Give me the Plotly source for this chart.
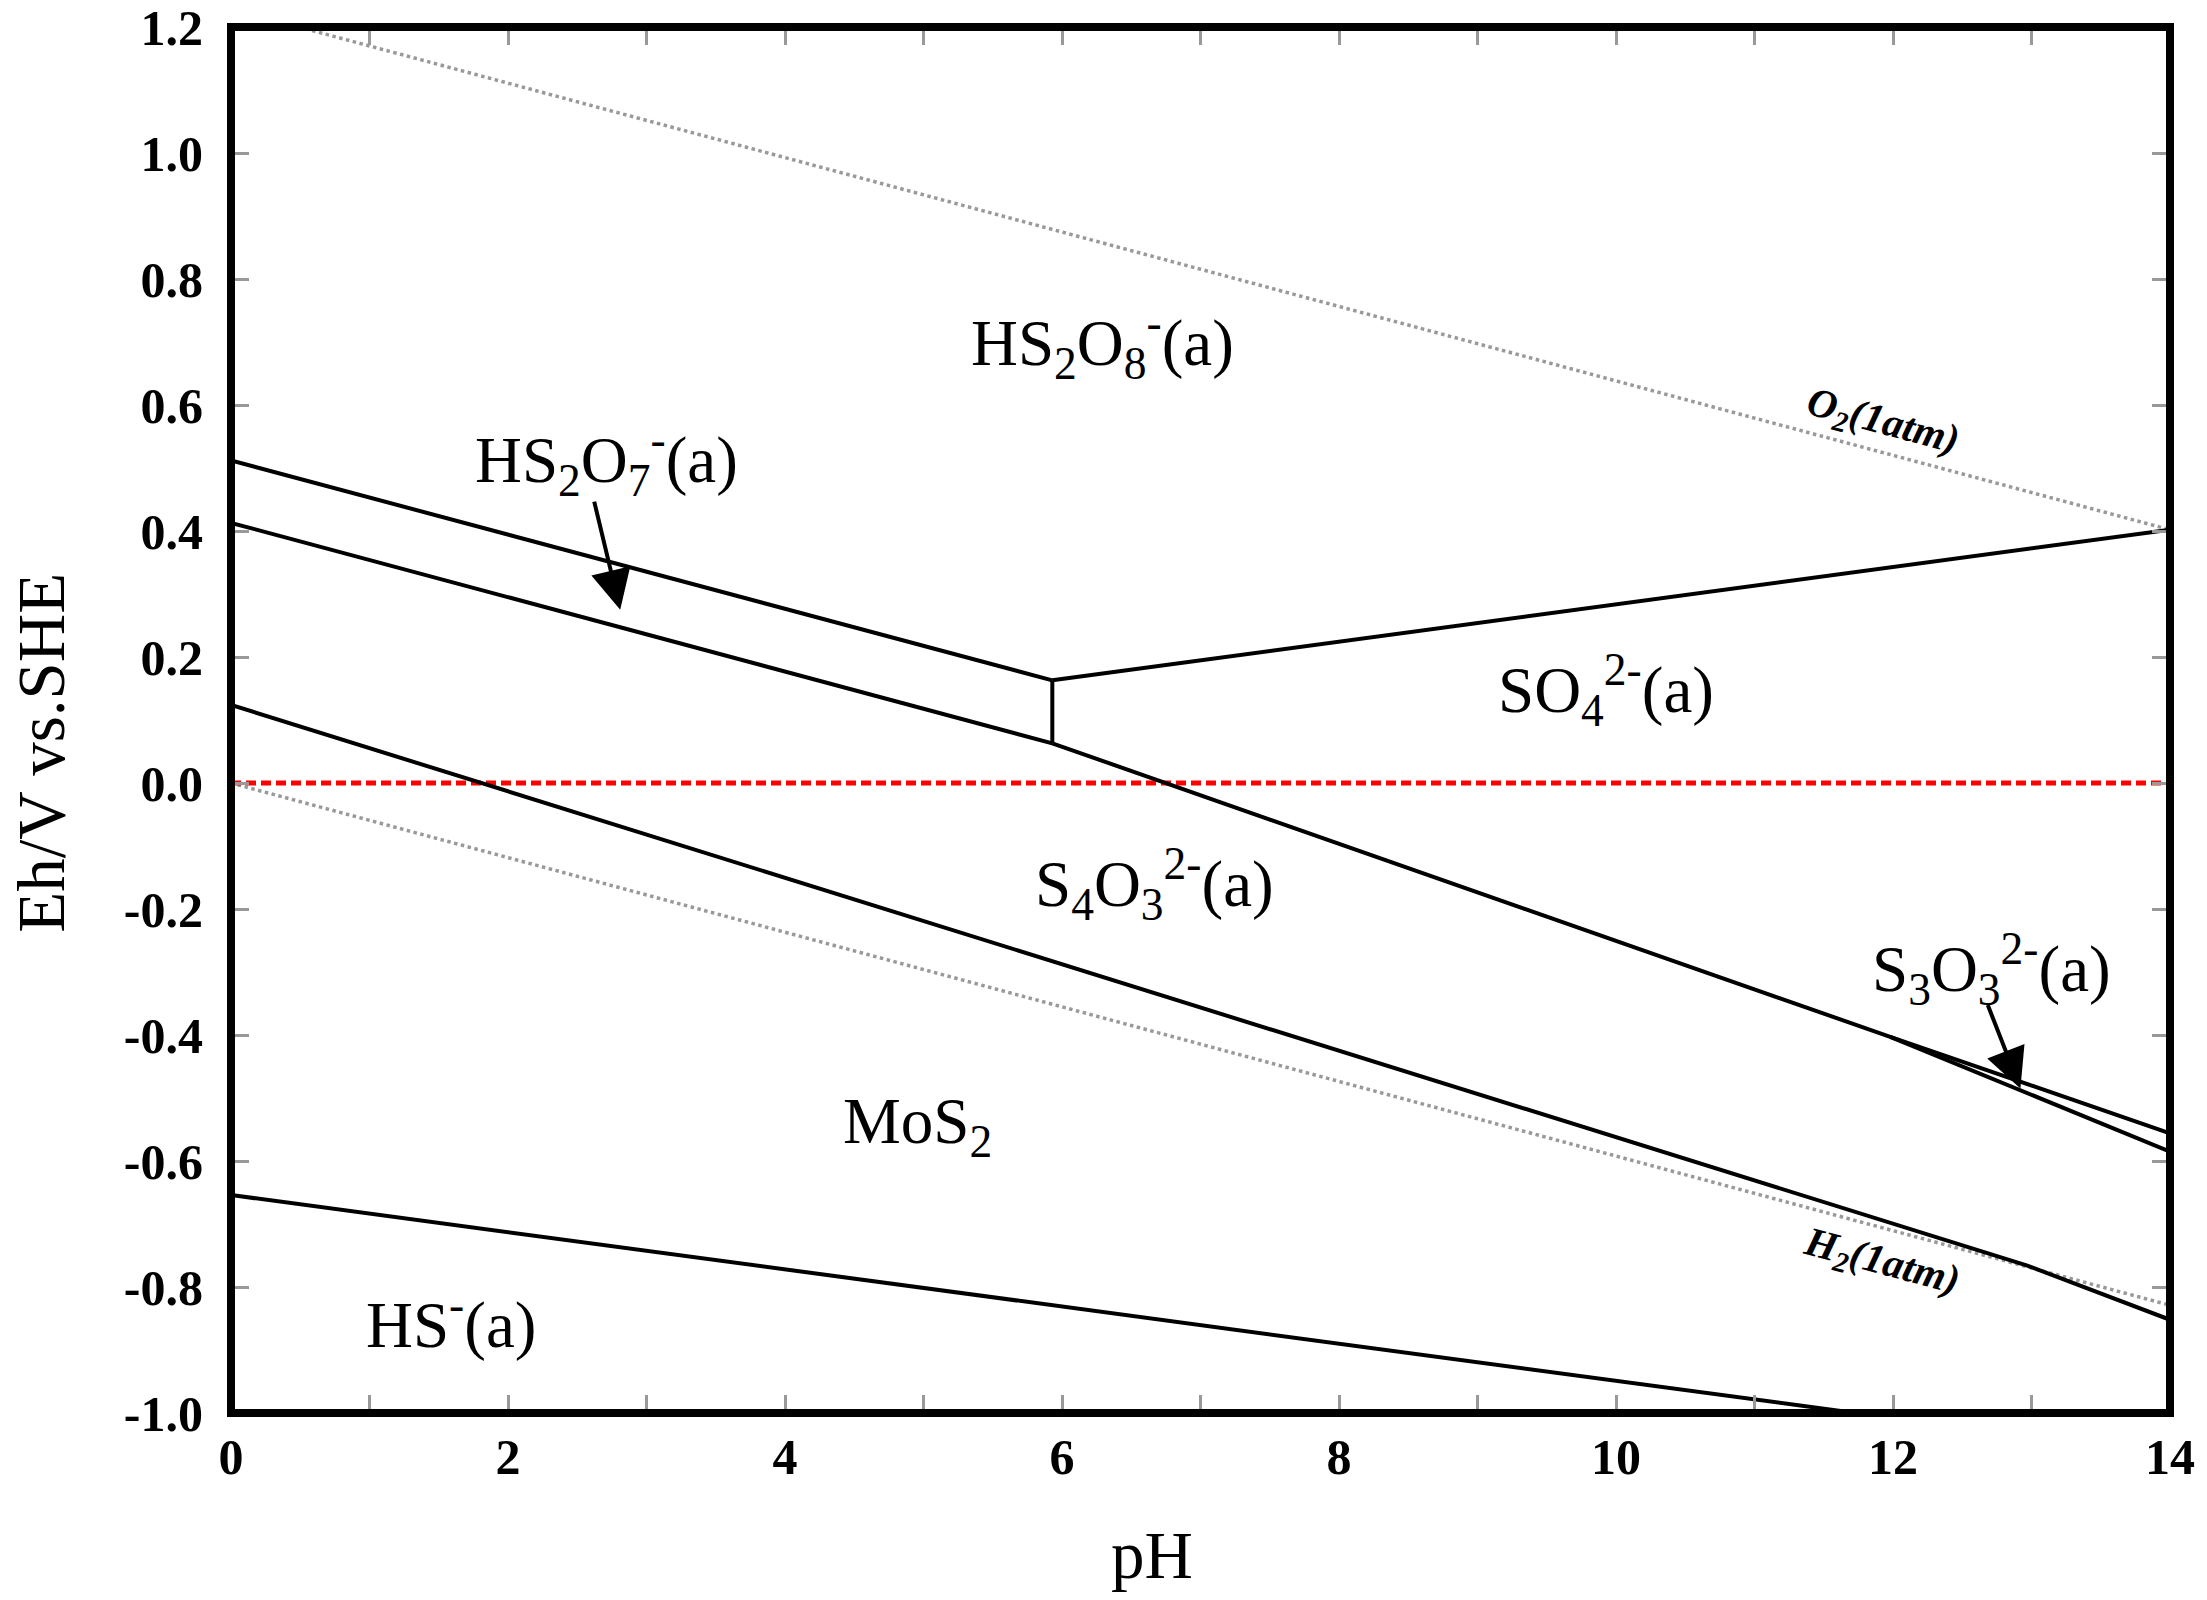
import plotly.graph_objects as go

# ---- data (pH, Eh/V) ----
ph_hs2o8_hs2o7 = [0.0, 5.93]
eh_hs2o8_hs2o7 = [0.512, 0.163]

ph_hs2o7_s4o3 = [0.0, 5.93]
eh_hs2o7_s4o3 = [0.413, 0.063]

ph_vertical = [5.93, 5.93]
eh_vertical = [0.063, 0.163]

ph_hs2o8_so4 = [5.93, 14.0]
eh_hs2o8_so4 = [0.163, 0.402]

ph_so4_lower = [5.93, 11.98, 14.0]
eh_so4_lower = [0.063, -0.403, -0.556]

ph_s3o3_s4o3 = [11.98, 14.0]
eh_s3o3_s4o3 = [-0.403, -0.585]

ph_s4o3_mos2 = [0.0, 12.97, 14.0]
eh_s4o3_mos2 = [0.124, -0.766, -0.852]

ph_mos2_hs = [0.0, 11.73]
eh_mos2_hs = [-0.654, -1.0]

ph_o2 = [0.0, 14.0]
eh_o2 = [1.229, 0.402]

ph_h2 = [0.0, 14.0]
eh_h2 = [0.0, -0.829]

ph_zero = [0.0, 14.0]
eh_zero = [0.0, 0.0]

region_labels = ["HS<sub>2</sub>O<sub>8</sub><sup>-</sup>(a)",
                 "HS<sub>2</sub>O<sub>7</sub><sup>-</sup>(a)",
                 "SO<sub>4</sub><sup>2-</sup>(a)",
                 "S<sub>4</sub>O<sub>3</sub><sup>2-</sup>(a)",
                 "S<sub>3</sub>O<sub>3</sub><sup>2-</sup>(a)",
                 "MoS<sub>2</sub>",
                 "HS<sup>-</sup>(a)"]
label_ph = [6.29, 2.71, 9.93, 6.67, 12.71, 4.96, 1.59]
label_eh = [0.698, 0.513, 0.148, -0.160, -0.296, -0.545, -0.852]

gas_labels = ["O<sub>2</sub>(1atm)", "H<sub>2</sub>(1atm)"]
gas_ph = [11.93, 11.92]
gas_eh = [0.572, -0.762]

arrow_tail_ph = [2.62, 12.68]
arrow_tail_eh = [0.449, -0.350]
arrow_head_ph = [2.81, 12.92]
arrow_head_eh = [0.275, -0.485]

x_ticks = [0, 2, 4, 6, 8, 10, 12, 14]
y_ticks = [-1.0, -0.8, -0.6, -0.4, -0.2, 0.0, 0.2, 0.4, 0.6, 0.8, 1.0, 1.2]

x_title = "pH"
y_title = "Eh/V vs.SHE"
x_title_ph = 6.65
y_title_eh = 0.048

SERIF = "Liberation Serif"
GRAY = "#999999"

fig = go.Figure()

# gas lines (dotted gray)
for px, py in [(ph_o2, eh_o2), (ph_h2, eh_h2)]:
    fig.add_trace(go.Scatter(x=px, y=py, mode="lines",
                             line=dict(color=GRAY, width=3.5, dash="3.5px,3.5px"),
                             hoverinfo="skip", showlegend=False))

# zero line (red dashed)
fig.add_trace(go.Scatter(x=ph_zero, y=eh_zero, mode="lines",
                         line=dict(color="#ff0000", width=5, dash="10px,5px"),
                         hoverinfo="skip", showlegend=False))

# boundary lines
boundaries = [
    (ph_hs2o8_hs2o7, eh_hs2o8_hs2o7),
    (ph_hs2o7_s4o3, eh_hs2o7_s4o3),
    (ph_vertical, eh_vertical),
    (ph_hs2o8_so4, eh_hs2o8_so4),
    (ph_so4_lower, eh_so4_lower),
    (ph_s3o3_s4o3, eh_s3o3_s4o3),
    (ph_s4o3_mos2, eh_s4o3_mos2),
    (ph_mos2_hs, eh_mos2_hs),
]
for px, py in boundaries:
    fig.add_trace(go.Scatter(x=px, y=py, mode="lines",
                             line=dict(color="black", width=4),
                             hoverinfo="skip", showlegend=False))

# region labels
for t, xx, yy in zip(region_labels, label_ph, label_eh):
    fig.add_annotation(x=xx, y=yy, text=t, showarrow=False,
                       font=dict(family=SERIF, size=65, color="black"))

# gas labels (rotated)
for t, xx, yy in zip(gas_labels, gas_ph, gas_eh):
    fig.add_annotation(x=xx, y=yy, text=t, showarrow=False, textangle=15,
                       font=dict(family=SERIF, size=41, color="black",
                                 weight="bold", style="italic"))

# arrows
for tx, ty, hx, hy in zip(arrow_tail_ph, arrow_tail_eh, arrow_head_ph, arrow_head_eh):
    fig.add_annotation(x=hx, y=hy, ax=tx, ay=ty, xref="x", yref="y",
                       axref="x", ayref="y", text="", showarrow=True,
                       arrowhead=2, arrowsize=2.0, arrowwidth=4,
                       arrowcolor="black")

# axis titles
fig.add_annotation(x=x_title_ph, xref="x", y=0, yref="paper", yshift=-142,
                   yanchor="middle", text=x_title, showarrow=False,
                   font=dict(family=SERIF, size=67, color="black"))
fig.add_annotation(x=0, xref="paper", xshift=-190, y=y_title_eh, yref="y",
                   xanchor="center", text=y_title, showarrow=False, textangle=-90,
                   font=dict(family=SERIF, size=67, color="black"))

# frame
fig.add_shape(type="rect", xref="paper", yref="paper", x0=0, x1=1, y0=0, y1=1,
              line=dict(color="black", width=8), layer="above")

fig.update_xaxes(range=[0, 14], tickvals=x_ticks,
                 ticktext=[str(v) for v in x_ticks],
                 showgrid=False, zeroline=False, showline=False, mirror="allticks",
                 ticks="inside", ticklen=18, tickwidth=3, tickcolor=GRAY,
                 minor=dict(dtick=1, ticks="inside", ticklen=18, tickwidth=3,
                            tickcolor=GRAY, showgrid=False),
                 ticklabelstandoff=10, automargin=False, ticklabeloverflow="allow",
                 tickfont=dict(family=SERIF, size=50, color="black", weight="bold"))

fig.update_yaxes(range=[-1.0, 1.2], tickvals=y_ticks,
                 ticktext=["%.1f" % v for v in y_ticks],
                 showgrid=False, zeroline=False, showline=False, mirror="allticks",
                 ticks="inside", ticklen=18, tickwidth=3, tickcolor=GRAY,
                 ticklabelstandoff=27, automargin=False, ticklabeloverflow="allow",
                 tickfont=dict(family=SERIF, size=50, color="black", weight="bold"))

fig.update_layout(width=2191, height=1584,
                  margin=dict(l=223, r=29, t=19, b=179, pad=0, autoexpand=False),
                  paper_bgcolor="white", plot_bgcolor="white",
                  showlegend=False)

fig.write_html("out.html")
